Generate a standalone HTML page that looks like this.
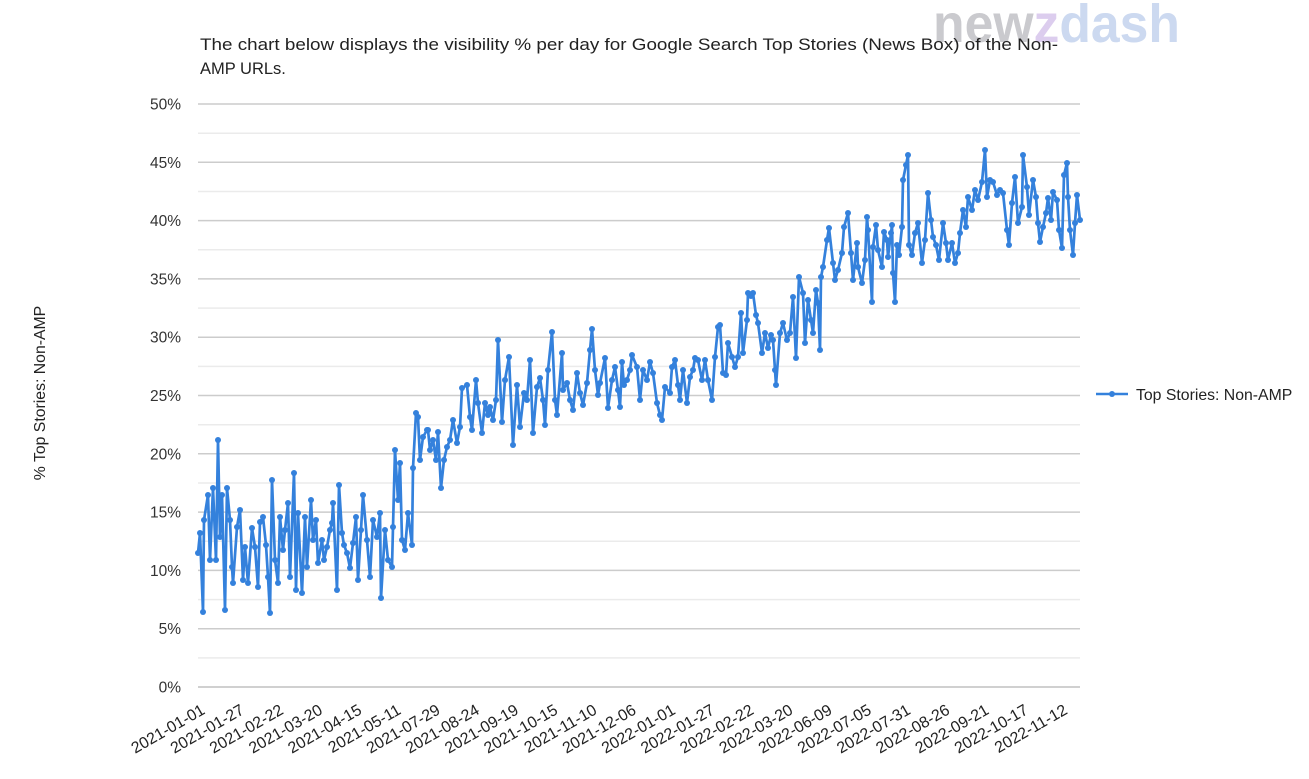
<!DOCTYPE html>
<html><head><meta charset="utf-8"><style>
html,body{margin:0;padding:0;background:#fff;}
svg{display:block;font-family:"Liberation Sans",Arial,sans-serif;}
</style></head><body>
<svg width="1309" height="779" viewBox="0 0 1309 779" xmlns="http://www.w3.org/2000/svg">
<defs>
<marker id="dot" markerUnits="userSpaceOnUse" markerWidth="8" markerHeight="8" viewBox="0 0 8 8" refX="4" refY="4" overflow="visible">
<circle cx="4" cy="4" r="3" fill="#3481dc"/>
</marker>
</defs>
<rect width="1309" height="779" fill="#fff"/>
<!-- watermark -->
<text x="933" y="42" font-size="54" font-weight="bold" textLength="247" lengthAdjust="spacingAndGlyphs"><tspan fill="#cacace">new</tspan><tspan fill="#dccdee">z</tspan><tspan fill="#ccd9f0">dash</tspan></text>
<!-- title -->
<text x="200" y="50" font-size="16.5" fill="#222" textLength="858" lengthAdjust="spacingAndGlyphs">The chart below displays the visibility % per day for Google Search Top Stories (News Box) of the Non-</text>
<text x="200" y="74" font-size="16.5" fill="#222">AMP URLs.</text>
<!-- minor gridlines -->
<g stroke="#ebebeb" stroke-width="1.5">
<line x1="198" x2="1080" y1="133.2" y2="133.2"/>
<line x1="198" x2="1080" y1="191.5" y2="191.5"/>
<line x1="198" x2="1080" y1="249.8" y2="249.8"/>
<line x1="198" x2="1080" y1="308.1" y2="308.1"/>
<line x1="198" x2="1080" y1="366.4" y2="366.4"/>
<line x1="198" x2="1080" y1="424.7" y2="424.7"/>
<line x1="198" x2="1080" y1="483" y2="483"/>
<line x1="198" x2="1080" y1="541.3" y2="541.3"/>
<line x1="198" x2="1080" y1="599.6" y2="599.6"/>
<line x1="198" x2="1080" y1="657.9" y2="657.9"/>
</g>
<!-- major gridlines -->
<g stroke="#cccccc" stroke-width="1.5">
<line x1="198" x2="1080" y1="104" y2="104"/>
<line x1="198" x2="1080" y1="162.3" y2="162.3"/>
<line x1="198" x2="1080" y1="220.6" y2="220.6"/>
<line x1="198" x2="1080" y1="278.9" y2="278.9"/>
<line x1="198" x2="1080" y1="337.2" y2="337.2"/>
<line x1="198" x2="1080" y1="395.5" y2="395.5"/>
<line x1="198" x2="1080" y1="453.8" y2="453.8"/>
<line x1="198" x2="1080" y1="512.1" y2="512.1"/>
<line x1="198" x2="1080" y1="570.4" y2="570.4"/>
<line x1="198" x2="1080" y1="628.7" y2="628.7"/>
<line x1="198" x2="1080" y1="687" y2="687" stroke="#c0c0c0"/>
</g>
<!-- y labels -->
<g font-size="15.5" fill="#333" text-anchor="end">
<text x="181" y="109.5">50%</text>
<text x="181" y="167.8">45%</text>
<text x="181" y="226.1">40%</text>
<text x="181" y="284.4">35%</text>
<text x="181" y="342.7">30%</text>
<text x="181" y="401">25%</text>
<text x="181" y="459.3">20%</text>
<text x="181" y="517.6">15%</text>
<text x="181" y="575.9">10%</text>
<text x="181" y="634.2">5%</text>
<text x="181" y="692.5">0%</text>
</g>
<!-- y axis title -->
<text transform="translate(45,393) rotate(-90)" font-size="15.8" fill="#222" text-anchor="middle">% Top Stories: Non-AMP</text>
<!-- x labels -->
<g font-size="16" fill="#222" text-anchor="end">
<text transform="translate(206,713) rotate(-30)">2021-01-01</text>
<text transform="translate(245.2,713) rotate(-30)">2021-01-27</text>
<text transform="translate(284.4,713) rotate(-30)">2021-02-22</text>
<text transform="translate(323.6,713) rotate(-30)">2021-03-20</text>
<text transform="translate(362.8,713) rotate(-30)">2021-04-15</text>
<text transform="translate(402,713) rotate(-30)">2021-05-11</text>
<text transform="translate(441.2,713) rotate(-30)">2021-07-29</text>
<text transform="translate(480.4,713) rotate(-30)">2021-08-24</text>
<text transform="translate(519.6,713) rotate(-30)">2021-09-19</text>
<text transform="translate(558.8,713) rotate(-30)">2021-10-15</text>
<text transform="translate(598,713) rotate(-30)">2021-11-10</text>
<text transform="translate(637.2,713) rotate(-30)">2021-12-06</text>
<text transform="translate(676.4,713) rotate(-30)">2022-01-01</text>
<text transform="translate(715.6,713) rotate(-30)">2022-01-27</text>
<text transform="translate(754.8,713) rotate(-30)">2022-02-22</text>
<text transform="translate(794,713) rotate(-30)">2022-03-20</text>
<text transform="translate(833.2,713) rotate(-30)">2022-06-09</text>
<text transform="translate(872.4,713) rotate(-30)">2022-07-05</text>
<text transform="translate(911.6,713) rotate(-30)">2022-07-31</text>
<text transform="translate(950.8,713) rotate(-30)">2022-08-26</text>
<text transform="translate(990,713) rotate(-30)">2022-09-21</text>
<text transform="translate(1029.2,713) rotate(-30)">2022-10-17</text>
<text transform="translate(1068.4,713) rotate(-30)">2022-11-12</text>
</g>
<!-- series -->
<polyline fill="none" stroke="#3481dc" stroke-width="2.7" stroke-linejoin="round" marker-start="url(#dot)" marker-mid="url(#dot)" marker-end="url(#dot)" points="198,553 200,533 203,612 204,520 208,495 210,560 213,488 216,560 218,440 220,537 222,495 225,610 227,488 230,520 232,567 233,583 237,527 240,510 243,580 245,547 248,583 252,528 255,547 258,587 260,522 263,517 266,545 268,577 270,613 272,480 275,560 278,583 280,517 283,550 285,530 288,503 290,577 294,473 296,590 298,513 302,593 305,517 307,567 311,500 313,540 316,520 318,563 322,540 324,560 327,547 330,530 332,523 333,503 337,590 339,485 342,533 344,545 347,553 350,568 353,543 356,517 358,580 361,530 363,495 367,540 370,577 373,520 377,537 380,513 381,598 385,530 388,560 392,567 393,527 395,450 398,500 400,463 402,540 405,550 408,513 412,545 413,468 416,413 418,417 420,460 423,437 427,430 428,430 430,450 433,440 436,460 438,432 441,488 444,460 447,447 450,440 453,420 457,443 460,427 462,388 467,385 470,417 472,430 476,380 478,403 482,433 485,403 488,415 490,407 493,420 496,400 498,340 502,422 505,380 509,357 513,445 517,385 520,427 524,393 527,400 530,360 533,433 537,387 540,378 543,400 545,425 548,370 552,332 555,400 557,415 562,353 563,390 567,383 570,400 573,410 577,373 580,393 583,405 587,383 590,350 592,329 595,370 598,395 600,383 605,358 608,408 612,380 615,367 618,390 620,407 622,362 624,385 627,380 630,370 632,355 637,367 640,400 643,370 647,380 650,362 653,373 657,403 660,415 662,420 665,387 670,393 672,367 675,360 678,385 680,400 683,370 687,403 690,377 693,370 695,358 698,360 702,380 705,360 708,380 712,400 715,357 718,327 720,325 723,373 726,375 728,343 732,357 735,367 738,357 741,313 743,353 747,320 748,293 751,296 753,293 756,315 758,323 762,353 765,333 768,348 771,335 773,340 775,370 776,385 780,333 783,323 787,340 790,333 793,297 796,358 799,277 803,293 805,343 808,300 811,320 813,333 816,290 818,303 820,350 821,277 823,267 827,240 829,228 833,263 835,280 838,270 842,253 844,227 848,213 851,253 853,280 857,243 858,267 862,283 865,260 867,217 868,230 872,302 873,247 876,225 878,250 882,267 884,232 887,240 888,257 891,233 892,225 893,273 895,302 897,245 899,255 902,227 903,180 906,165 908,155 909,245 912,255 915,233 918,223 922,263 925,240 928,193 931,220 933,237 936,245 939,260 943,223 946,243 948,260 952,243 955,263 958,253 960,233 963,210 966,227 968,197 972,210 975,190 978,200 982,182 985,150 987,197 990,180 993,182 997,195 1000,190 1003,193 1007,230 1009,245 1012,203 1015,177 1018,223 1022,207 1023,155 1027,187 1029,215 1033,180 1036,197 1038,223 1040,242 1043,227 1046,213 1048,198 1051,220 1053,192 1057,200 1059,230 1062,248 1064,175 1067,163 1068,197 1070,230 1073,255 1075,223 1077,195 1080,220"/>
<!-- legend -->
<line x1="1096" y1="394" x2="1128" y2="394" stroke="#3481dc" stroke-width="2.4"/>
<circle cx="1112" cy="394" r="3" fill="#3481dc"/>
<text x="1136" y="400" font-size="15.8" fill="#222">Top Stories: Non-AMP</text>
</svg>
</body></html>
